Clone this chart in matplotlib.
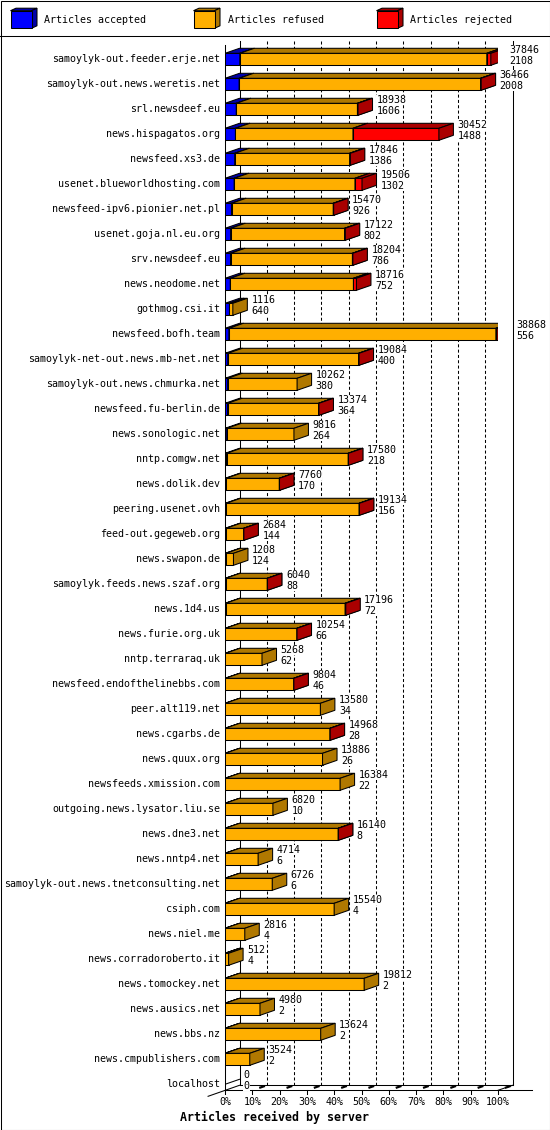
import matplotlib
matplotlib.use("Agg")
import matplotlib.pyplot as plt
from matplotlib.patches import Polygon, Rectangle

servers = [
    "samoylyk-out.feeder.erje.net", "samoylyk-out.news.weretis.net", "srl.newsdeef.eu",
    "news.hispagatos.org", "newsfeed.xs3.de", "usenet.blueworldhosting.com",
    "newsfeed-ipv6.pionier.net.pl", "usenet.goja.nl.eu.org", "srv.newsdeef.eu",
    "news.neodome.net", "gothmog.csi.it", "newsfeed.bofh.team",
    "samoylyk-net-out.news.mb-net.net", "samoylyk-out.news.chmurka.net", "newsfeed.fu-berlin.de",
    "news.sonologic.net", "nntp.comgw.net", "news.dolik.dev",
    "peering.usenet.ovh", "feed-out.gegeweb.org", "news.swapon.de",
    "samoylyk.feeds.news.szaf.org", "news.1d4.us", "news.furie.org.uk",
    "nntp.terraraq.uk", "newsfeed.endofthelinebbs.com", "peer.alt119.net",
    "news.cgarbs.de", "news.quux.org", "newsfeeds.xmission.com",
    "outgoing.news.lysator.liu.se", "news.dne3.net", "news.nntp4.net",
    "samoylyk-out.news.tnetconsulting.net", "csiph.com", "news.niel.me",
    "news.corradoroberto.it", "news.tomockey.net", "news.ausics.net",
    "news.bbs.nz", "news.cmpublishers.com", "localhost",
]
offered = [37846, 36466, 18938, 30452, 17846, 19506, 15470, 17122, 18204, 18716,
           1116, 38868, 19084, 10262, 13374, 9816, 17580, 7760, 19134, 2684,
           1208, 6040, 17196, 10254, 5268, 9804, 13580, 14968, 13886, 16384,
           6820, 16140, 4714, 6726, 15540, 2816, 512, 19812, 4980, 13624,
           3524, 0]
accepted = [2108, 2008, 1606, 1488, 1386, 1302, 926, 802, 786, 752,
            640, 556, 400, 380, 364, 264, 218, 170, 156, 144,
            124, 88, 72, 66, 62, 46, 34, 28, 26, 22,
            10, 8, 6, 6, 4, 4, 4, 2, 2, 2,
            2, 0]
# estimated from the red part of each bar
rejected = [570, 80, 80, 12230, 100, 1000, 60, 100, 60, 430,
            0, 300, 60, 0, 50, 0, 40, 30, 40, 30,
            0, 20, 100, 20, 0, 20, 0, 20, 0, 0,
            0, 20, 0, 0, 0, 0, 0, 0, 0, 0,
            0, 0]
refused = [o - a - r for o, a, r in zip(offered, accepted, rejected)]
pct_ticks = [0, 10, 20, 30, 40, 50, 60, 70, 80, 90, 100]
legend_labels = ["Articles accepted", "Articles refused", "Articles rejected"]
front_colors = ["#0000ff", "#ffaf00", "#ff0000"]
dark_colors = ["#0000a8", "#b07800", "#aa0000"]

W, H = 550, 1130
LW = 0.75
MONO = "DejaVu Sans Mono"
FS = 7.2

fig = plt.figure(figsize=(W / 100, H / 100), dpi=100)

# pixel-space overlay for frame and legend
frame = fig.add_axes([0, 0, 1, 1])
frame.set_xlim(0, W)
frame.set_ylim(H, 0)
frame.axis("off")
frame.add_patch(Rectangle((0.5, 0.5), W - 1, H - 1, fill=False, ec="black", lw=LW))
frame.plot([0, W], [35.5, 35.5], color="black", lw=LW)

for k, (lab, fc, dc) in enumerate(zip(legend_labels, front_colors, dark_colors)):
    x0 = 10.5 + k * 183
    x1 = x0 + 21
    yt, yb = 10.7, 28.3
    ddx, ddy = 5.5, 2.5
    frame.add_patch(Polygon([(x0, yt), (x1, yt), (x1 + ddx, yt - ddy), (x0 + ddx, yt - ddy)],
                            closed=True, fc=dc, ec="black", lw=LW))
    frame.add_patch(Polygon([(x1, yt), (x1 + ddx, yt - ddy), (x1 + ddx, yb - ddy), (x1, yb)],
                            closed=True, fc=dc, ec="black", lw=LW))
    frame.add_patch(Rectangle((x0, yt), x1 - x0, yb - yt, fc=fc, ec="black", lw=LW))
    frame.text(x0 + 34, 20, lab, family=MONO, fontsize=FS, va="center", ha="left")

# main chart: x in percent of the largest server, y in rows
n = len(servers)
ax = fig.add_axes([225 / W, 1 - 1096.8 / H, 273 / W, 1050 / H])
ax.set_xlim(0, 100)
ax.set_ylim(n - 0.5, -0.5)
ax.axis("off")

PXX = 100 / 273.0
PXY = 1 / 25.0
DX = 14.5 * PXX
DY = 5 * PXY
BAR_H = 12 * PXY
scale = 100.0 / max(offered)

top_y = -0.744
floor_front = n - 1 + 6 * PXY
floor_back = floor_front - DY

# walls and grid
kw = dict(color="black", lw=LW, clip_on=False, zorder=1)
ax.plot([DX, DX], [top_y, floor_back], **kw)
ax.plot([0, 0], [top_y + 0.18, floor_front], **kw)
ax.plot([100 + DX, 100 + DX], [top_y, floor_back], **kw)
for t in pct_ticks[1:-1]:
    ax.plot([t + DX, t + DX], [top_y, floor_back], color="black", lw=LW,
            dashes=(2.9, 2.2), clip_on=False, zorder=1)
ax.plot([DX, 100 + DX], [floor_back, floor_back], **kw)
ax.plot([0, 112.5], [floor_front, floor_front], **kw)
ax.plot([DX, -6.2], [floor_back, floor_front + 6 * PXY], **kw)
ax.plot([100 + DX, 100], [floor_back, floor_front], **kw)
for t in pct_ticks:
    ax.plot([t, t], [floor_front, floor_front + 4 * PXY], **kw)
    if t > 0:
        ax.plot([t + 0.55 * DX, t + 0.8 * DX],
                [floor_front - 0.55 * DY, floor_front - 0.8 * DY],
                color="black", lw=1.6, clip_on=False, zorder=1)
    ax.text(t, floor_front + 12 * PXY, f"{t}%", family=MONO, fontsize=FS,
            ha="center", va="center")
ax.text(18.1, floor_front + 27 * PXY, "Articles received by server", family=MONO,
        fontsize=8.4, fontweight="bold", ha="center", va="center")

# stacked 3d bars
left = [0] * n
for s, vals in enumerate([accepted, refused, rejected]):
    z = 3 + s
    rows = [i for i in range(n) if vals[i] > 0]
    ax.barh(rows, [vals[i] * scale for i in rows], left=[left[i] * scale for i in rows],
            height=BAR_H, color=front_colors[s], edgecolor="black", linewidth=LW, zorder=z)
    for i in rows:
        x0 = left[i] * scale
        x1 = (left[i] + vals[i]) * scale
        yt = i - BAR_H / 2
        yb = i + BAR_H / 2
        ax.add_patch(Polygon([(x0, yt), (x1, yt), (x1 + DX, yt - DY), (x0 + DX, yt - DY)],
                             closed=True, fc=dark_colors[s], ec="black", lw=LW, zorder=z))
        ax.add_patch(Polygon([(x1, yt), (x1 + DX, yt - DY), (x1 + DX, yb - DY), (x1, yb)],
                             closed=True, fc=dark_colors[s], ec="black", lw=LW, zorder=z))
    left = [l + v for l, v in zip(left, vals)]

for i, name in enumerate(servers):
    ax.text(-1.8, i, name, family=MONO, fontsize=FS, ha="right", va="center")
    if offered[i] == 0:
        ax.plot([0, DX], [i, i - DY], color="black", lw=LW, zorder=3)
    xt = offered[i] * scale + DX + 4 * PXX
    box = dict(facecolor="white", edgecolor="none", pad=0.3)
    ax.text(xt, i - 0.37, str(offered[i]), family=MONO, fontsize=FS,
            ha="left", va="center", bbox=box, zorder=8)
    ax.text(xt, i + 0.06, str(accepted[i]), family=MONO, fontsize=FS,
            ha="left", va="center", bbox=box, zorder=8)

fig.savefig("out.png", dpi=100)
